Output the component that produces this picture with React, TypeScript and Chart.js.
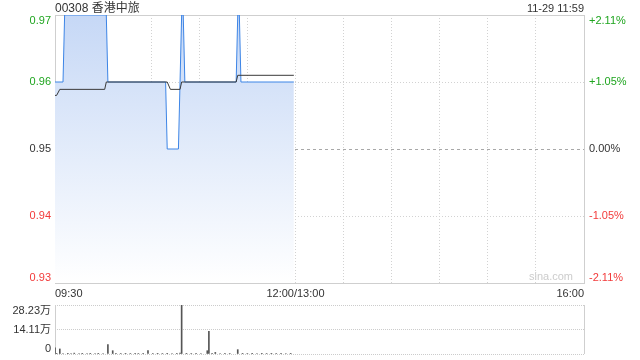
import React, { useEffect, useRef } from "react";
import { Chart, registerables } from "chart.js";

Chart.register(...registerables);

// ---- data ----
const TITLE = "00308 香港中旅";
const TIMESTAMP = "11-29 11:59";
const PRICE_TICKS = [0.97, 0.96, 0.95, 0.94, 0.93];
const PCT_LABELS = ["+2.11%", "+1.05%", "0.00%", "-1.05%", "-2.11%"];
const PREV_CLOSE = 0.95;
const TIME_LABELS = ["09:30", "12:00/13:00", "16:00"];
const TIME_LABEL_MINUTES = [0, 150, 330];
const VOL_TICKS = [28.23, 14.11, 0];
const VOL_LABELS = ["28.23万", "14.11万", "0"];

// minutes after 09:30 (lunch break removed) and prices
const priceMinutes = [0, 5, 6, 32, 33, 69, 70, 77, 78, 79, 80, 81, 113, 114, 115, 116, 149];
const priceValues = [0.96, 0.96, 0.97, 0.97, 0.96, 0.96, 0.95, 0.95, 0.96, 0.97, 0.97, 0.96, 0.96, 0.97, 0.97, 0.96, 0.96];

const avgMinutes = [0, 1, 3, 31, 32, 70, 72, 78, 79, 113, 114, 149];
const avgValues = [0.958, 0.958, 0.9589, 0.9589, 0.96, 0.96, 0.9589, 0.9589, 0.96, 0.96, 0.961, 0.961];

// volume in 万 shares
const volMinutes = [0, 1, 3, 5, 8, 10, 12, 15, 17, 20, 22, 25, 27, 30, 33, 36, 38, 41, 44, 47, 50, 52, 55, 58, 61, 64, 67, 70, 73, 76, 78, 79, 82, 85, 88, 91, 95, 96, 98, 100, 103, 106, 109, 114, 117, 120, 123, 126, 129, 132, 135, 138, 141, 144, 147];
const volValues = [3.5, 0.4, 2.9, 0.3, 0.4, 0.3, 0.5, 0.3, 0.4, 0.3, 0.4, 0.3, 0.4, 0.3, 5.4, 1.9, 0.4, 0.3, 0.4, 0.3, 0.4, 0.3, 0.4, 1.9, 0.3, 0.4, 0.3, 0.4, 0.3, 0.4, 0.6, 28.23, 0.4, 0.3, 0.4, 0.3, 1.9, 13.0, 0.4, 0.9, 0.3, 0.4, 0.3, 2.5, 0.4, 0.3, 0.4, 0.3, 0.4, 0.3, 0.4, 0.3, 0.4, 0.3, 0.4];

const GREEN = "#1fa51f";
const RED = "#f23a3a";
const DARK = "#333333";
const FONT = '"Liberation Sans", Arial, "Noto Sans CJK SC", sans-serif';

function colorFor(v: number) {
  if (Math.abs(v - PREV_CLOSE) < 1e-6) return DARK;
  return v > PREV_CLOSE ? GREEN : RED;
}

export default function App() {
  const mainRef = useRef<HTMLCanvasElement>(null);
  const volRef = useRef<HTMLCanvasElement>(null);

  useEffect(() => {
    const mainDecor = {
      id: "mainDecor",
      beforeDatasetsDraw(chart: any) {
        const { ctx, chartArea: a, scales } = chart;
        ctx.save();
        // prev close dashed line
        const y = Math.round(scales.y.getPixelForValue(PREV_CLOSE)) + 0.5;
        ctx.strokeStyle = "#a8a8a8";
        ctx.lineWidth = 1;
        ctx.setLineDash([3, 3]);
        ctx.beginPath();
        ctx.moveTo(a.left, y);
        ctx.lineTo(a.right, y);
        ctx.stroke();
        ctx.setLineDash([]);
        ctx.strokeStyle = "#cfcfcf";
        ctx.strokeRect(a.left + 0.5, a.top + 0.5, a.right - a.left, a.bottom - a.top);
        ctx.restore();
      },
      afterDraw(chart: any) {
        const { ctx, chartArea: a, scales } = chart;
        ctx.save();
        ctx.font = "11px " + FONT;
        PRICE_TICKS.forEach((v, i) => {
          const py = scales.y.getPixelForValue(v);
          let base: CanvasTextBaseline = "middle";
          let yy = py;
          if (i === 0) { base = "top"; yy = py; }
          if (i === PRICE_TICKS.length - 1) { base = "bottom"; yy = py; }
          ctx.textBaseline = base;
          ctx.fillStyle = colorFor(v);
          ctx.textAlign = "right";
          ctx.fillText(v.toFixed(2), a.left - 4, yy);
          ctx.textAlign = "left";
          ctx.fillText(PCT_LABELS[i], a.right + 5, yy);
        });
        ctx.fillStyle = DARK;
        ctx.textBaseline = "top";
        TIME_LABELS.forEach((t, i) => {
          const px = scales.x.getPixelForValue(TIME_LABEL_MINUTES[i]);
          ctx.textAlign = i === 0 ? "left" : i === TIME_LABELS.length - 1 ? "right" : "center";
          ctx.fillText(t, px, a.bottom + 5);
        });
        // title & timestamp
        ctx.textBaseline = "alphabetic";
        ctx.textAlign = "left";
        ctx.font = "12px " + FONT;
        ctx.fillText(TITLE, a.left, 12);
        ctx.textAlign = "right";
        ctx.font = "11px " + FONT;
        ctx.fillText(TIMESTAMP, a.right, 12);
        // watermark
        ctx.fillStyle = "#cccccc";
        ctx.textAlign = "right";
        ctx.textBaseline = "bottom";
        ctx.font = "11px " + FONT;
        ctx.fillText("sina.com", a.right - 11, a.bottom - 1);
        ctx.restore();
      },
    };

    const main = new Chart(mainRef.current as HTMLCanvasElement, {
      type: "line",
      data: {
        datasets: [
          {
            data: avgMinutes.map((m, i) => ({ x: m, y: avgValues[i] })),
            borderColor: "#3a3a3a",
            borderWidth: 1,
            pointRadius: 0,
            fill: false,
            tension: 0,
          },
          {
            data: priceMinutes.map((m, i) => ({ x: m, y: priceValues[i] })),
            borderColor: "#3d85e6",
            borderWidth: 1,
            pointRadius: 0,
            tension: 0,
            fill: "start",
            backgroundColor: (c: any) => {
              const { chart } = c;
              const area = chart.chartArea;
              if (!area) return "rgba(200,218,246,0.8)";
              const g = chart.ctx.createLinearGradient(0, area.top, 0, area.bottom);
              g.addColorStop(0, "rgb(198,216,246)");
              g.addColorStop(1, "rgb(255,255,255)");
              return g;
            },
          },
        ],
      },
      options: {
        responsive: false,
        animation: false,
        devicePixelRatio: 1,
        layout: { padding: { left: 55, right: 56, top: 15, bottom: 17 } },
        plugins: { legend: { display: false }, tooltip: { enabled: false } },
        scales: {
          x: {
            type: "linear",
            min: 0,
            max: 330,
            ticks: { display: false, stepSize: 30 },
            grid: { drawTicks: false, color: "#d2d2d2", lineWidth: 1 },
            border: { display: false, dash: [1, 2] },
          },
          y: {
            type: "linear",
            min: 0.93,
            max: 0.97,
            ticks: { display: false, stepSize: 0.01 },
            grid: {
              drawTicks: false,
              lineWidth: 1,
              color: (c: any) =>
                c.tick && Math.abs(c.tick.value - PREV_CLOSE) < 1e-6 ? "rgba(0,0,0,0)" : "#d2d2d2",
            },
            border: { display: false, dash: [1, 2] },
          },
        },
      },
      plugins: [mainDecor],
    });

    const volDecor = {
      id: "volDecor",
      beforeDatasetsDraw(chart: any) {
        const { ctx, chartArea: a } = chart;
        ctx.save();
        ctx.strokeStyle = "#cfcfcf";
        ctx.lineWidth = 1;
        ctx.beginPath();
        ctx.moveTo(a.left + 0.5, a.top);
        ctx.lineTo(a.left + 0.5, a.bottom);
        ctx.moveTo(a.right + 0.5, a.top);
        ctx.lineTo(a.right + 0.5, a.bottom);
        ctx.stroke();
        ctx.restore();
      },
      afterDraw(chart: any) {
        const { ctx, chartArea: a, scales } = chart;
        ctx.save();
        ctx.font = "11px " + FONT;
        ctx.fillStyle = DARK;
        ctx.textAlign = "right";
        VOL_TICKS.forEach((v, i) => {
          const py = scales.y.getPixelForValue(v);
          ctx.textBaseline = i === 0 ? "top" : i === VOL_TICKS.length - 1 ? "bottom" : "middle";
          ctx.fillText(VOL_LABELS[i], a.left - 4, py);
        });
        ctx.restore();
      },
    };

    const vol = new Chart(volRef.current as HTMLCanvasElement, {
      type: "bar",
      data: {
        datasets: [
          {
            data: volMinutes.map((m, i) => ({ x: m, y: volValues[i] })),
            backgroundColor: "#555555",
            barThickness: 1,
          },
        ],
      },
      options: {
        responsive: false,
        animation: false,
        devicePixelRatio: 1,
        layout: { padding: { left: 55, right: 56, top: 5, bottom: 6 } },
        plugins: { legend: { display: false }, tooltip: { enabled: false } },
        scales: {
          x: {
            type: "linear",
            min: 0,
            max: 330,
            offset: false,
            ticks: { display: false },
            grid: { display: false, drawTicks: false },
            border: { display: false },
          },
          y: {
            type: "linear",
            min: 0,
            max: 28.23,
            ticks: { display: false, stepSize: 14.115 },
            grid: { drawTicks: false, color: "#cccccc", lineWidth: 1 },
            border: { display: false, dash: [1, 1] },
          },
        },
      },
      plugins: [volDecor],
    });

    return () => {
      main.destroy();
      vol.destroy();
    };
  }, []);

  return (
    <div style={{ position: "absolute", left: 0, top: 0, width: 640, height: 360, background: "#fff" }}>
      <canvas ref={mainRef} width={640} height={300} style={{ position: "absolute", left: 0, top: 0, display: "block" }} />
      <canvas ref={volRef} width={640} height={60} style={{ position: "absolute", left: 0, top: 300, display: "block" }} />
    </div>
  );
}
